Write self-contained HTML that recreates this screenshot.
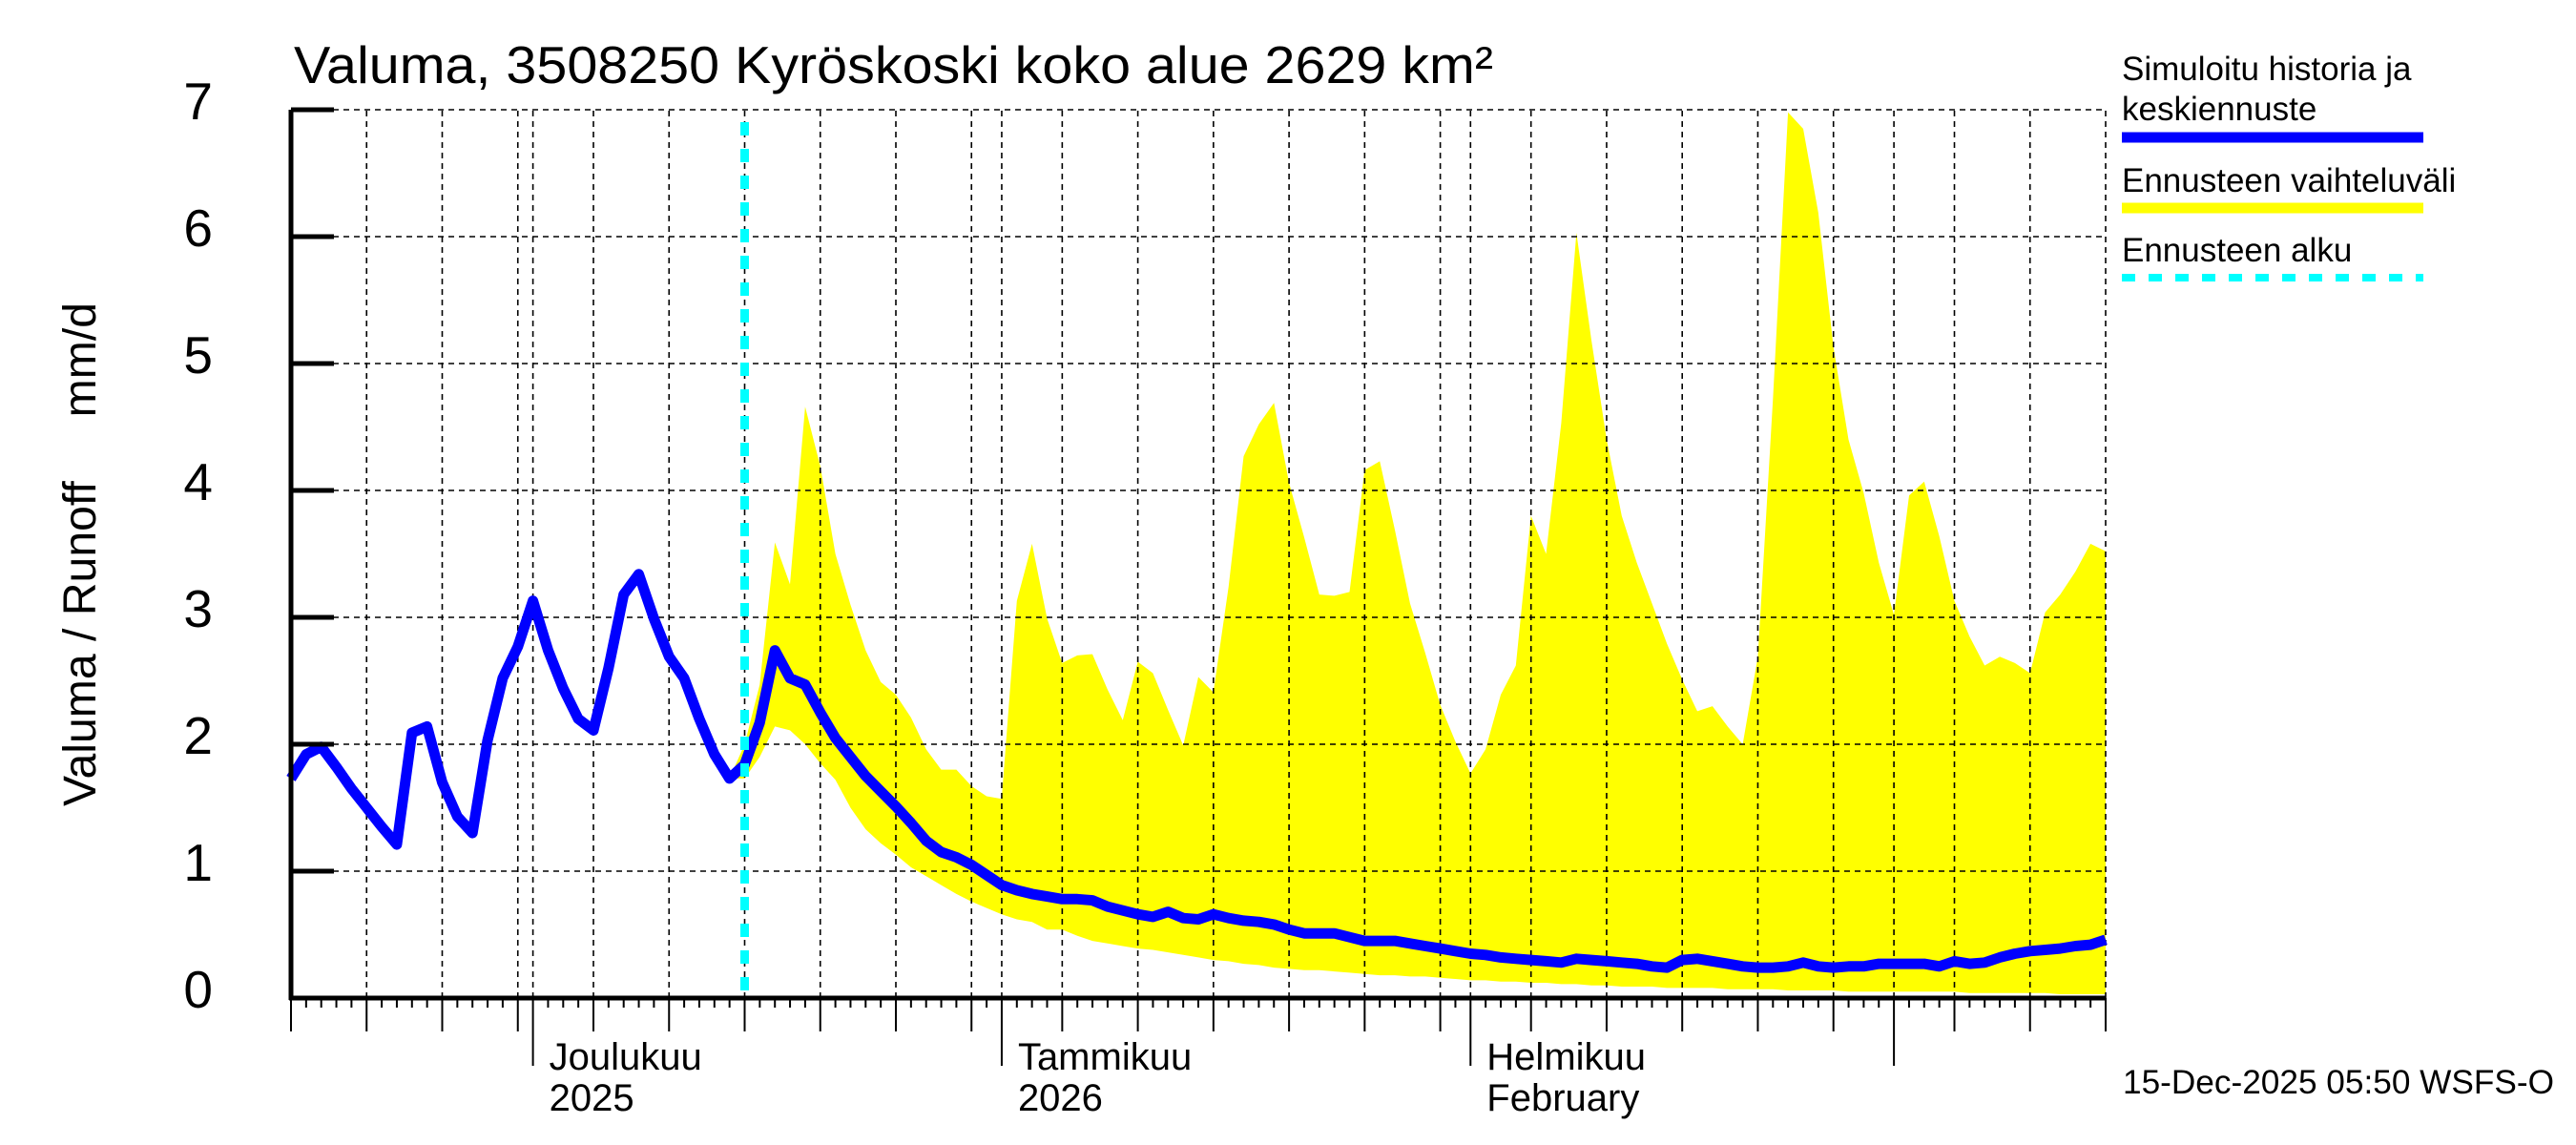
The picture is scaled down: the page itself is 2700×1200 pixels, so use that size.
<!DOCTYPE html>
<html><head><meta charset="utf-8">
<style>
html,body{margin:0;padding:0;background:#fff;}
svg{display:block;font-family:"Liberation Sans",Arial,sans-serif;}
</style></head>
<body>
<svg id="chart" width="2700" height="1200" viewBox="0 0 2700 1200" xmlns="http://www.w3.org/2000/svg">
<rect x="0" y="0" width="2700" height="1200" fill="#fff"/>
<g id="band"></g>
<g id="grid"></g>
<g id="lines"></g>
<g id="axes"></g>
<text x="308" y="87" font-size="55" textLength="1257" lengthAdjust="spacingAndGlyphs">Valuma, 3508250 Kyröskoski koko alue 2629 km²</text>
<text transform="translate(100,845) rotate(-90)" font-size="48" textLength="528" lengthAdjust="spacingAndGlyphs" xml:space="preserve">Valuma / Runoff     mm/d</text>
<g>
<text x="2224" y="84" font-size="35">Simuloitu historia ja</text>
<text x="2224" y="126" font-size="35">keskiennuste</text>
<line x1="2224" y1="144" x2="2540" y2="144" stroke="#0000ff" stroke-width="11"/>
<text x="2224" y="201" font-size="35">Ennusteen vaihteluväli</text>
<line x1="2224" y1="218" x2="2540" y2="218" stroke="#ffff00" stroke-width="11"/>
<text x="2224" y="274" font-size="35">Ennusteen alku</text>
<line x1="2224" y1="291" x2="2540" y2="291" stroke="#00ffff" stroke-width="8" stroke-dasharray="14,14"/>
</g>
<text x="2225" y="1146" font-size="35" textLength="452" lengthAdjust="spacingAndGlyphs">15-Dec-2025 05:50 WSFS-O</text>
</svg>
<script>
// index 0 = 15 Nov 2025, daily to 15 Mar 2026
const meanValues = [
1.73,1.92,1.98,1.82,1.65,1.5,1.35,1.21,2.09,2.14,1.7,1.43,1.3,2.03,2.52,2.77,
3.13,2.74,2.44,2.2,2.11,2.6,3.18,3.34,2.99,2.69,2.52,2.2,1.92,1.73,1.84,
2.17,2.74,2.52,2.47,2.25,2.05,1.9,1.75,1.63,1.51,1.38,1.24,1.15,1.11,1.05,0.97,
0.89,0.85,0.82,0.80,0.78,0.78,0.77,0.72,0.69,0.66,0.64,0.68,0.63,0.62,0.66,0.63,0.61,0.60,0.58,0.54,0.51,0.51,0.51,0.48,0.45,0.45,0.45,0.43,0.41,0.39,0.37,
0.35,0.34,0.32,0.31,0.30,0.29,0.28,0.31,0.30,0.29,0.28,0.27,0.25,0.24,0.30,0.31,0.29,0.27,0.25,0.24,0.24,0.25,0.28,0.25,0.24,0.25,0.25,0.27,
0.27,0.27,0.27,0.25,0.29,0.27,0.28,0.32,0.35,0.37,0.38,0.39,0.41,0.42,0.46];
const bandStartIndex = 29; // 14 Dec
const bandUpper = [
1.73,2.0,2.47,3.59,3.26,4.66,4.19,3.5,3.1,2.74,2.49,2.39,2.21,1.96,1.80,1.80,1.67,1.59,
1.57,3.13,3.58,2.99,2.64,2.70,2.71,2.43,2.19,2.65,2.56,2.27,1.99,2.53,2.41,3.24,4.27,4.52,4.69,4.06,3.63,3.18,3.17,3.2,4.16,4.23,3.69,3.11,2.72,2.31,2.02,
1.77,1.96,2.39,2.62,3.80,3.50,4.53,6.03,5.18,4.40,3.80,3.43,3.11,2.79,2.51,2.26,2.30,2.14,2.00,2.69,4.72,6.98,6.85,6.19,5.13,4.40,3.98,3.43,
3.02,3.96,4.07,3.64,3.13,2.85,2.62,2.69,2.64,2.56,3.04,3.18,3.36,3.58,3.52];
const bandLower = [
1.73,1.73,1.9,2.14,2.11,2.0,1.85,1.72,1.5,1.33,1.22,1.13,1.03,0.96,0.89,0.82,0.76,0.71,
0.66,0.62,0.60,0.54,0.54,0.49,0.45,0.43,0.41,0.39,0.38,0.36,0.34,0.32,0.30,0.29,0.27,0.26,0.24,0.23,0.22,0.22,0.21,0.20,0.19,0.18,0.18,0.17,0.17,0.16,0.15,
0.14,0.14,0.13,0.13,0.12,0.12,0.11,0.11,0.10,0.10,0.09,0.09,0.09,0.08,0.08,0.08,0.08,0.07,0.07,0.07,0.07,0.06,0.06,0.06,0.06,0.05,0.05,0.05,
0.05,0.05,0.05,0.05,0.05,0.04,0.04,0.04,0.04,0.04,0.04,0.03,0.03,0.03,0.03];
const forecastStartIndex = 30; // 15 Dec
const yTickLabels = ["0","1","2","3","4","5","6","7"];
const monthLabels = [["Joulukuu","2025"],["Tammikuu","2026"],["Helmikuu","February"]];

const NS="http://www.w3.org/2000/svg";
const X0=305, DX=15.85, Y0=1046, DY=133, NDAYS=121;
function xOf(i){return X0+i*DX;}
function yOf(v){return Y0-v*DY;}
function mk(tag,attrs,parent){const e=document.createElementNS(NS,tag);for(const k in attrs)e.setAttribute(k,attrs[k]);parent.appendChild(e);return e;}
const gBand=document.getElementById('band'),gGrid=document.getElementById('grid'),gLines=document.getElementById('lines'),gAxes=document.getElementById('axes');

let pts=[];
for(let k=0;k<bandUpper.length;k++)pts.push(xOf(bandStartIndex+k).toFixed(1)+","+yOf(bandUpper[k]).toFixed(1));
for(let k=bandLower.length-1;k>=0;k--)pts.push(xOf(bandStartIndex+k).toFixed(1)+","+yOf(bandLower[k]).toFixed(1));
const poly=mk('polygon',{points:pts.join(' '),fill:'#ffff00'},gBand);



for(let v=0;v<yTickLabels.length;v++){
  const y=yOf(v);
  if(v>0){const g=mk('line',{x1:X0,y1:y,x2:xOf(NDAYS-1),y2:y,stroke:'#000','stroke-width':1.6,'stroke-dasharray':'6,5'},gGrid);
  
  }
  const t=mk('line',{x1:X0,y1:y,x2:X0+45,y2:y,stroke:'#000','stroke-width':5},gAxes);
  
  
  const lbl=mk('text',{x:223,y:y+10,'font-size':55,'text-anchor':'end'},gAxes);
  lbl.textContent=yTickLabels[v];
  
  
}

const start=new Date(2025,10,15);
let mi=0;
for(let i=0;i<NDAYS;i++){
  const d=new Date(start.getFullYear(),start.getMonth(),start.getDate()+i);
  const dom=d.getDate(), x=xOf(i);
  let len=10;
  const isMonth=dom===1, isGrid=dom%5===0;
  if(isMonth)len=71; else if(isGrid)len=35;
  if(isMonth||isGrid){
    const g=mk('line',{x1:x,y1:Y0,x2:x,y2:yOf(7),stroke:'#000','stroke-width':1.6,'stroke-dasharray':'6,5'},gGrid);
    
    
  }
  const t=mk('line',{x1:x,y1:Y0,x2:x,y2:Y0+len,stroke:'#000','stroke-width':2},gAxes);
  
  
  if(isMonth&&mi<monthLabels.length){
    const a=mk('text',{x:x+17,y:1121,'font-size':40},gAxes);a.textContent=monthLabels[mi][0];
    
    
    const b=mk('text',{x:x+17,y:1164,'font-size':40},gAxes);b.textContent=monthLabels[mi][1];
    
    
    mi++;
  }
}
const ax=mk('line',{x1:X0,y1:yOf(7),x2:X0,y2:Y0+2,stroke:'#000','stroke-width':5},gAxes);


const bx=mk('line',{x1:X0-2,y1:Y0,x2:xOf(NDAYS-1),y2:Y0,stroke:'#000','stroke-width':5},gAxes);



const mp=meanValues.map((v,i)=>xOf(i).toFixed(1)+","+yOf(v).toFixed(1)).join(' ');
const ml=mk('polyline',{points:mp,fill:'none',stroke:'#0000ff','stroke-width':11,'stroke-linejoin':'round'},gLines);



const fx=xOf(forecastStartIndex);
const fl=mk('line',{x1:fx,y1:128,x2:fx,y2:Y0,stroke:'#00ffff','stroke-width':9,'stroke-dasharray':'14,14'},gLines);


</script>
</body></html>
